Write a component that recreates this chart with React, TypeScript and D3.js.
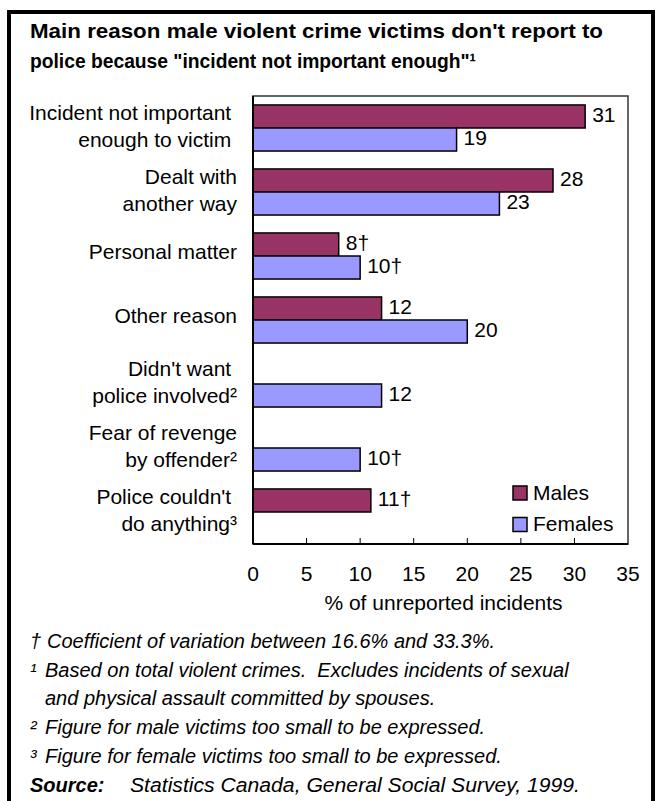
import React from 'react';
import * as d3 from 'd3';

const titleLines = [
  "Main reason male violent crime victims don't report to",
  'police because "incident not important enough"\u00B9',
];
const categories: string[][] = [
  ['Incident not important ', 'enough to victim '],
  ['Dealt with', 'another way'],
  ['Personal matter'],
  ['Other reason'],
  ["Didn't want ", 'police involved\u00B2'],
  ['Fear of revenge', 'by offender\u00B2'],
  ["Police couldn't ", 'do anything\u00B3'],
];
const maleValues: (number | null)[] = [31, 28, 8, 12, null, null, 11];
const maleFlags = [false, false, true, false, false, false, true];
const femaleValues: (number | null)[] = [19, 23, 10, 20, 12, 10, null];
const femaleFlags = [false, false, true, false, false, true, false];
const seriesNames = ['Males', 'Females'];
const xTicks = [0, 5, 10, 15, 20, 25, 30, 35];
const axisTitle = '% of unreported incidents';
const footnoteMarks = ['\u2020', '\u00B9', '', '\u00B2', '\u00B3'];
const footnoteTexts = [
  'Coefficient of variation between 16.6% and 33.3%.',
  'Based on total violent crimes.  Excludes incidents of sexual',
  'and physical assault committed by spouses.',
  'Figure for male victims too small to be expressed.',
  'Figure for female victims too small to be expressed.',
];
const sourceLabel = 'Source:';
const sourceText = 'Statistics Canada, General Social Survey, 1999.';

const FONT = '"Liberation Sans", Arial, sans-serif';
const MALE = '#993366';
const FEMALE = '#9999FF';

export default function App() {
  const W = 656;
  const H = 801;
  const left = 253;
  const right = 628;
  const top = 96;
  const bottom = 544;

  const x = d3.scaleLinear().domain([0, 35]).range([left, right]);
  const y = d3
    .scaleBand<number>()
    .domain(d3.range(categories.length))
    .range([top, bottom])
    .paddingInner(0.28)
    .paddingOuter(0.14);
  const sub = d3.scaleBand<string>().domain(['m', 'f']).range([0, y.bandwidth()]);

  const series = [
    { key: 'm', values: maleValues, flags: maleFlags, color: MALE },
    { key: 'f', values: femaleValues, flags: femaleFlags, color: FEMALE },
  ];

  const footY = [648, 677, 705, 734, 763];

  return (
    <svg
      width={W}
      height={H}
      style={{ position: 'absolute', left: 0, top: 0, background: '#fff' }}
      fontFamily={FONT}
    >
      <rect x={0} y={0} width={W} height={H} fill="#fff" />
      {/* outer frame */}
      <rect x={9} y={12} width={644} height={H} fill="none" stroke="#000" strokeWidth={4} />

      {/* title */}
      {titleLines.map((t, i) => (
        <text
          key={i}
          x={30}
          y={38 + i * 30}
          fontSize={21}
          fontWeight="bold"
          fill="#000"
          textLength={i === 0 ? 573 : 446}
          lengthAdjust="spacingAndGlyphs"
          style={{ whiteSpace: 'pre' }}
        >
          {t}
        </text>
      ))}

      {/* plot area */}
      <rect x={left} y={top} width={right - left} height={bottom - top} fill="#fff" stroke="#333" strokeWidth={1.5} />

      {/* bars */}
      {series.map((s) =>
        s.values.map((v, i) =>
          v == null ? null : (
            <rect
              key={s.key + i}
              x={x(0)}
              y={(y(i) as number) + (sub(s.key) as number)}
              width={x(v) - x(0)}
              height={sub.bandwidth()}
              fill={s.color}
              stroke="#000"
              strokeWidth={1.5}
            />
          )
        )
      )}

      {/* value labels */}
      {series.map((s) =>
        s.values.map((v, i) =>
          v == null ? null : (
            <text
              key={'l' + s.key + i}
              x={x(v) + 7}
              y={(y(i) as number) + (sub(s.key) as number) + sub.bandwidth() / 2 + 5.5}
              fontSize={21}
              fill="#000"
            >
              {String(v) + (s.flags[i] ? '\u2020' : '')}
            </text>
          )
        )
      )}

      {/* axes */}
      <line x1={left} x2={left} y1={top} y2={bottom} stroke="#000" strokeWidth={2} />
      <line x1={left} x2={right} y1={bottom} y2={bottom} stroke="#000" strokeWidth={2} />
      {xTicks
        .filter((t) => t > 0 && t < 35)
        .map((t) => (
          <line key={'t' + t} x1={x(t)} x2={x(t)} y1={bottom} y2={bottom - 6} stroke="#000" strokeWidth={1} />
        ))}
      {xTicks.map((t) => (
        <text key={'tl' + t} x={x(t)} y={581} fontSize={21} textAnchor="middle" fill="#000">
          {t}
        </text>
      ))}
      <text x={(left + right) / 2 + 3} y={610} fontSize={21} textAnchor="middle" fill="#000">
        {axisTitle}
      </text>

      {/* category labels */}
      {categories.map((lines, i) => {
        const c = (y(i) as number) + y.bandwidth() / 2;
        const ys = lines.length === 1 ? [c + 2.5] : [c - 8, c + 19];
        return lines.map((ln, j) => (
          <text
            key={'c' + i + j}
            x={237}
            y={ys[j]}
            fontSize={21}
            textAnchor="end"
            fill="#000"
            style={{ whiteSpace: 'pre' }}
          >
            {ln}
          </text>
        ));
      })}

      {/* legend */}
      {seriesNames.map((n, i) => (
        <g key={n}>
          <rect
            x={513}
            y={486 + i * 31.5}
            width={14}
            height={14}
            fill={i === 0 ? MALE : FEMALE}
            stroke="#000"
            strokeWidth={1.5}
          />
          <text x={533} y={499.5 + i * 31.5} fontSize={21} fill="#000">
            {n}
          </text>
        </g>
      ))}

      {/* footnotes */}
      {footnoteTexts.map((t, i) => (
        <g key={'f' + i}>
          {footnoteMarks[i] && (
            <text x={30} y={footY[i]} fontSize={20} fontStyle="italic" fill="#000">
              {footnoteMarks[i]}
            </text>
          )}
          <text x={i === 0 ? 47 : 45} y={footY[i]} fontSize={20} fontStyle="italic" fill="#000" style={{ whiteSpace: 'pre' }}>
            {t}
          </text>
        </g>
      ))}
      <text x={30} y={792} fontSize={20} fontStyle="italic" fontWeight="bold" fill="#000">
        {sourceLabel}
      </text>
      <text x={130} y={792} fontSize={20} fontStyle="italic" fill="#000" textLength={450} lengthAdjust="spacingAndGlyphs">
        {sourceText}
      </text>
    </svg>
  );
}
